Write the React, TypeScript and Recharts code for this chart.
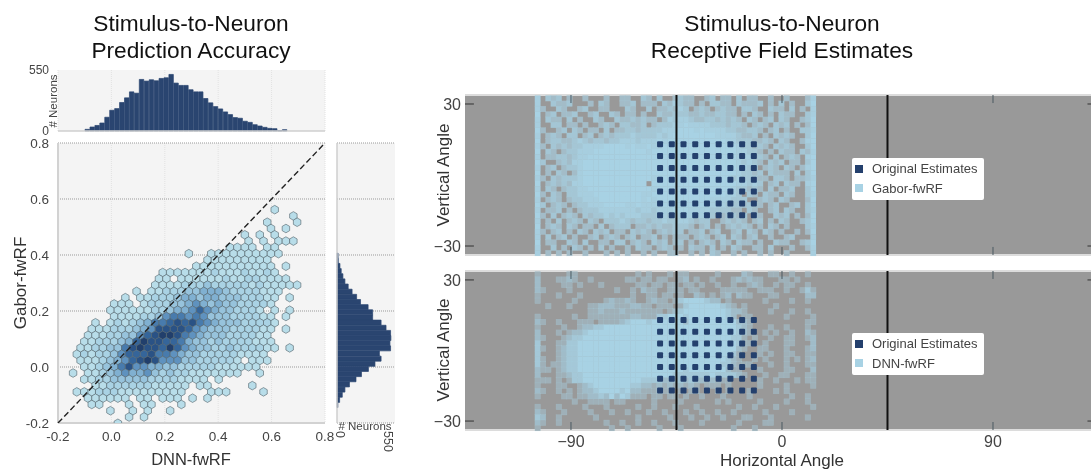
import { BarChart, Bar, CartesianGrid, ReferenceLine, Scatter, ScatterChart, XAxis, YAxis } from "recharts"

const FONT = '"Liberation Sans", Arial, sans-serif'
const TICK = "#444"

// top histogram: DNN-fwRF accuracy, neuron count per bin
const dnnBinStart = -0.0895
const dnnBinStep = 0.01848
const dnnCounts = [
  15, 36, 50, 72, 124, 187, 202, 257, 299, 353, 341, 465, 450, 462, 453, 474, 480, 510, 432, 411, 411,
  372, 353, 353, 293, 254, 220, 199, 172, 148, 121, 115, 88, 78, 57, 45, 33, 24, 21, 3, 12,
]

// right histogram: Gabor-fwRF accuracy, listed from the top bin down
const gaborBinStart = 0.3975
const gaborBinStep = 0.0184
const gaborCounts = [
  10, 12, 28, 40, 56, 75, 106, 143, 186, 223, 295, 338, 338, 418, 465, 508, 511, 502, 508, 402, 418,
  360, 298, 232, 180, 118, 75, 50, 25, 8,
]

// hexbin: one string per row, '.' is an empty bin, 1-9 is the density level
const hexRows = [
  "............................1",
  "...............................1",
  "...........................1...1",
  "............................1.1",
  "........................1.1.1",
  ".........................1.1.111",
  "......................1111.11",
  ".................1..1111111111",
  "...................111111111",
  "..................11111111111.1",
  ".............1111111211121121",
  ".............11.111111211221111",
  "............11112223222221211111",
  "..........1.11222334443222211" + "1",
  "........1.1122234434433322211.1",
  ".......111.122233454343322221",
  "......111111223445754332221.1.1",
  ".......1111223566565333222211.1",
  "....1.12123466787865433322221",
  "....1112223458888754333222211.1",
  "...1112233578998654333222211",
  "...11222347988776433232222111",
  "..112233689887975433223222211.1",
  "..12122357778665433222221111",
  "..1112345789855533222221.111",
  "...112346855443322222111111",
  ".1.112345445323221111111..1",
  "...11223333322221111.1",
  "....1122222211111.11.....1",
  "..111222111111111...111....1",
  "...111111.11.111.1.1",
  "....11...1.11...1",
  "......1..1.1..1",
  ".........1.1",
  ".......1",
]
const hexEvenStart = -0.1715
const hexOddStart = -0.1855
const hexStepX = 0.02797
const hexTopY = 0.5619
const hexStepY = 0.02244
const hexColors = ["", "#b8dde9", "#a9d2e4", "#97c3dc", "#80b0d1", "#5f92bf", "#487bad", "#35659a", "#2a5285", "#213f6c"]

// receptive field density, 30 rows by 53 columns, 0 is an empty cell
const gaborGrid = [
  "30212010010001001100210200121100120110201100100100013",
  "30021120001021001120111021321101022110211120102010024",
  "31002100120011000210020112132012101211022100211020103",
  "40120112001200210110100211222112112211010210102110023",
  "30211020100210021121211013233211221212102101202100124",
  "30022011010012102211201222334333322212210121021201014",
  "41001202101102011221222233344434333322112210120100223",
  "30121022012012122232222323444444443333211201021210024",
  "40122112321221223332333434444444444433222112102100134",
  "31021212233334444343343344444444444444322121021210024",
  "40210122333444444444434444444444444444332210102110213",
  "30112212334444444444444444444444444444333121020121034",
  "42001213344444444444444444444444444444323210212011024",
  "30120122344444444444444444444444444444332301210210134",
  "40102101344444444444444444444444444444322120211102024",
  "31021222344444444444443444444444444442322211022101123",
  "40121213344444444444404444444444444444332320120211034",
  "30210122334444444444443444444444444443221210201120024",
  "41021022333444444444334444444444444433202102110210023",
  "30121012233344444444343444444444433332220012102100014",
  "42012101223334444334333344444444333322212110120012024",
  "30112010122233333332332333444333322221102100120210023",
  "41020121021223232333222332334323320122120210021201014",
  "30102012102102223212212232233212200121210120102100124",
  "40121021011020122201121211222101201012121010210100023",
  "31012010210212011021210121220112012001202102101001014",
  "30201201001201210120112010111012101202101200100120003",
  "40110021020011022012102120120101210210211010021100124",
  "30020102101020100102110121010211020102100110200010013",
  "30101010010001010100101001100101021001010010100100003",
]
const dnnGrid = [
  "10000011000000000001010001011000001000021000110010010",
  "20001121001000000110110110012010010001212110001101000",
  "20000110100010000001101101101101001001001210010110010",
  "21000010000000010010211001110110000111110011100100131",
  "10001000100000000010011011010021010120211000110000022",
  "10000001000001211210012110134444322010000001000010010",
  "00100010001122211122110111013444444321010000010000" + "000",
  "00000000001121112111111101234444444432210000100010010",
  "10000001001111111122111334443444444432011000000100001",
  "21001000111011112344434444442444444444221000000000011",
  "10000100122334444444444444444444444444321000100100010",
  "20001012234444444444444444444444444444321001010010021",
  "21000123344444444444444444444444444443310100100110012",
  "30001133444444444444444444444444444444311001000110002",
  "31001233444444444444444444444444444444210011000100012",
  "30001233444444444444444444444444444443100010100110011",
  "31001233444444444444444444444444444432100101000101012",
  "31011233444444444444444444444444444332111000100100011",
  "21101233444444444444444444443444444421100010000110002",
  "20001123344444444444444444333333343333210001001100011",
  "11101013344444444444333322232322121110000010010001011",
  "10001100123444444433221212121210111010000010000100001",
  "21001010122344443422111211010110001010001000010100000",
  "10000110112232424311101101101001000100001000000010010",
  "00000001001111011000001000010000001010000010000100010",
  "10001000010001000001001000100010000000100100010000001",
  "21000100001000100100010010001001001001000001000010000",
  "32001000000100000001000001000100100100011000100000010",
  "21001000000001001001001000100001000000100001100000000",
  "10000000000000100100000100010000000001000100000000000",
]
const gridLeft = -104.2
const gridStepX = 2.26
const gridTop = 32.4
const gridStepY = 2.255
const gaborCellColors = ["", "#a3bcc8", "#a4c6d5", "#a7cedf", "#a8d2e4"]
const dnnCellColors = ["", "#9fb0b8", "#a0bcc9", "#a4c8d8", "#a8d2e4"]

// original estimates, degrees
const originalX = [-52, -47, -42, -37, -32, -27, -22, -17, -12]
const originalY = [13, 8, 3, -2, -7, -12, -17]

const accuracyTicks = [-0.2, 0, 0.2, 0.4, 0.6, 0.8]
const horizontalTicks = [-90, 0, 90]
const verticalTicks = [-30, 30]
const boundaryLines = [-45, 45]

const X_MIN = -135.2
const X_MAX = 131.8
const Y_MAX = 33.8

const dnnData = dnnCounts.map((count, i) => ({ x: dnnBinStart + i * dnnBinStep, count }))
const gaborData = gaborCounts.map((count, i) => ({ y: gaborBinStart - i * gaborBinStep, count }))

const hexData = hexRows.flatMap((row, i) =>
  [...row].flatMap((ch, c) =>
    ch === "." ? [] : [{ x: (i % 2 ? hexOddStart : hexEvenStart) + c * hexStepX, y: hexTopY - i * hexStepY, level: +ch }]
  )
)

const toCells = (grid: string[]) =>
  grid.flatMap((row, r) =>
    [...row].flatMap((ch, c) =>
      ch === "0" ? [] : [{ x: gridLeft + c * gridStepX, y: gridTop - r * gridStepY, level: +ch }]
    )
  )

const originalData = originalY.flatMap(y => originalX.map(x => ({ x, y })))
const diagonal = [{ x: -0.2, y: -0.2 }, { x: 0.8, y: 0.8 }]

function Hexagon({ cx, cy, level }: any) {
  const r = 4.3
  const w = 3.73
  const d = `M${cx},${cy - r}L${cx + w},${cy - r / 2}L${cx + w},${cy + r / 2}L${cx},${cy + r}L${cx - w},${cy + r / 2}L${cx - w},${cy - r / 2}Z`
  return <path d={d} fill={hexColors[level]} stroke="#56686f" strokeOpacity={0.8} strokeWidth={0.8} />
}

function Cell({ cx, cy, level, colors }: any) {
  return (
    <rect x={cx - 2.8} y={cy - 2.8} width={5.6} height={5.6} fill={colors[level]}
      stroke="#acd4e6" strokeOpacity={level < 4 ? 0.3 : 0} strokeWidth={0.5} />
  )
}

function Dot({ cx, cy }: any) {
  return <rect x={cx - 3} y={cy - 3} width={6} height={6} rx={1} fill="#24406d" />
}

const noMark = () => null

function Label({ x, y, size, rotate = 0, color = "#333", children }: any) {
  return (
    <div style={{
      position: "absolute", left: x, top: y, fontSize: size, color, lineHeight: 1, whiteSpace: "nowrap",
      transform: `translate(-50%, -50%) rotate(${rotate}deg)`,
    }}>
      {children}
    </div>
  )
}

function Legend({ top, name }: { top: number; name: string }) {
  const row = { display: "flex", alignItems: "center", height: 19.5, fontSize: 13, color: "#444" }
  const swatch = { width: 8, height: 8, marginRight: 9 }
  return (
    <div style={{ position: "absolute", left: 852, top, width: 132, height: 42, padding: "1px 0 0 3px", boxSizing: "border-box", background: "#fff", borderRadius: 2 }}>
      <div style={row}><div style={{ ...swatch, background: "#24406d" }} />Original Estimates</div>
      <div style={row}><div style={{ ...swatch, background: "#a8d2e4" }} />{name}</div>
    </div>
  )
}

function RotatedTick({ x, y, payload }: any) {
  const shift = payload.value === 0 ? 1 : 11
  return (
    <text transform={`translate(${x - shift},${y + 6}) rotate(90)`} fontSize={12.5} fill={TICK} textAnchor="start">
      {payload.value}
    </text>
  )
}

function ReceptiveField({ grid, colors, top, height, marginTop, showX }: { grid: string[]; colors: string[]; top: number; height: number; marginTop: number; showX: boolean }) {
  const minus = (v: number) => String(v).replace("-", "\u2212")
  const segments = [
    ...horizontalTicks.flatMap(t => [
      { stroke: "#4a5a62", width: 1, points: [{ x: t, y: Y_MAX }, { x: t, y: 30.4 }] },
      { stroke: "#4a5a62", width: 1, points: [{ x: t, y: -Y_MAX }, { x: t, y: -30.4 }] },
    ]),
    ...verticalTicks.flatMap(t => [
      { stroke: "#333", width: 1, points: [{ x: X_MIN, y: t }, { x: X_MIN + 3.8, y: t }] },
      { stroke: "#333", width: 1, points: [{ x: X_MAX - 1.5, y: t }, { x: X_MAX, y: t }] },
    ]),
    ...boundaryLines.map(x => ({ stroke: "#111", width: 2, points: [{ x, y: -Y_MAX }, { x, y: Y_MAX }] })),
  ]
  return (
    <div style={{ position: "absolute", left: 400, top }}>
      <ScatterChart width={691} height={height} margin={{ top: marginTop, right: 0, bottom: showX ? 0 : 5, left: 0 }}>
        <CartesianGrid fill="#999999" stroke="none" />
        <XAxis type="number" dataKey="x" domain={[X_MIN, X_MAX]} ticks={horizontalTicks} hide={!showX} height={39}
          tickFormatter={minus} tick={{ fontSize: 16, fill: TICK }} tickLine={false} axisLine={false} tickSize={0} tickMargin={6} interval={0} />
        <YAxis type="number" dataKey="y" domain={[-Y_MAX, Y_MAX]} ticks={verticalTicks} width={65}
          tickFormatter={minus} tick={{ fontSize: 16, fill: TICK }} tickLine={false} axisLine={false} tickSize={0} tickMargin={4} interval={0} />
        <Scatter data={toCells(grid)} isAnimationActive={false} shape={(p: any) => <Cell cx={p.cx} cy={p.cy} level={p.payload.level} colors={colors} />} />
        <Scatter data={originalData} isAnimationActive={false} shape={(p: any) => <Dot cx={p.cx} cy={p.cy} />} />
        <ReferenceLine y={Y_MAX} stroke="#dcdcdc" strokeWidth={2} />
        <ReferenceLine y={-Y_MAX} stroke="#dcdcdc" strokeWidth={2} />
        {segments.map((s, i) => (
          <Scatter key={i} data={s.points} isAnimationActive={false} shape={noMark} line={{ stroke: s.stroke, strokeWidth: s.width }} />
        ))}
      </ScatterChart>
    </div>
  )
}

export default function App() {
  return (
    <div style={{ position: "absolute", left: 0, top: 0, width: 1091, height: 469, background: "#fff", fontFamily: FONT, overflow: "hidden", filter: "blur(0.4px)" }}>
      <Label x={191} y={23} size={22.7} color="#111">Stimulus-to-Neuron</Label>
      <Label x={191} y={50} size={22.7} color="#111">Prediction Accuracy</Label>
      <Label x={782} y={23} size={22.7} color="#111">Stimulus-to-Neuron</Label>
      <Label x={782} y={50} size={22.7} color="#111">Receptive Field Estimates</Label>

      {/* top histogram */}
      <div style={{ position: "absolute", left: 0, top: 60 }}>
        <BarChart width={345} height={80} data={dnnData} margin={{ top: 10, right: 20, bottom: 9, left: 0 }}>
          <CartesianGrid fill="#f4f4f4" stroke="#e2e2e2" strokeDasharray="1 1" horizontal={false} />
          <XAxis type="number" dataKey="x" domain={[-0.2, 0.8]} ticks={accuracyTicks} hide />
          <YAxis type="number" domain={[0, 550]} ticks={[0, 550]} width={58} tick={{ fontSize: 12, fill: TICK }} tickLine={false} axisLine={false} tickSize={0} tickMargin={9} interval={0} />
          <Bar dataKey="count" fill="#2a4570" stroke="#2a4570" strokeWidth={0.7} barSize={5} isAnimationActive={false} />
          <ReferenceLine y={0} stroke="#cfcfcf" strokeWidth={1.5} />
        </BarChart>
      </div>
      <Label x={54} y={101} size={11.5} rotate={-90} color={TICK}># Neurons</Label>

      {/* hexbin */}
      <div style={{ position: "absolute", left: 0, top: 0 }}>
        <ScatterChart width={345} height={469} margin={{ top: 143, right: 20, bottom: 0, left: 0 }}>
          <CartesianGrid fill="#f4f4f4" stroke="#e2e2e2" strokeDasharray="1 1" horizontal={false} />
          <CartesianGrid stroke="#999" strokeDasharray="1 1" vertical={false} />
          <XAxis type="number" dataKey="x" domain={[-0.2, 0.8]} ticks={accuracyTicks} height={46} interval={0}
            tickFormatter={(v: number) => v.toFixed(1)} tick={{ fontSize: 13.5, fill: TICK }} tickLine={false}
            axisLine={{ stroke: "#d2d2d2", strokeWidth: 2 }} tickSize={0} tickMargin={8} />
          <YAxis type="number" dataKey="y" domain={[-0.2, 0.8]} ticks={accuracyTicks} width={58} allowDataOverflow interval={0}
            tickFormatter={(v: number) => v.toFixed(1)} tick={{ fontSize: 13.5, fill: TICK }} tickLine={false}
            axisLine={{ stroke: "#d2d2d2", strokeWidth: 2 }} tickSize={0} tickMargin={9} />
          <Scatter data={hexData} isAnimationActive={false} shape={(p: any) => <Hexagon cx={p.cx} cy={p.cy} level={p.payload.level} />} />
          <Scatter data={diagonal} isAnimationActive={false} shape={noMark} line={{ stroke: "#222", strokeWidth: 1.4, strokeDasharray: "6 3" }} />
        </ScatterChart>
      </div>
      <Label x={191} y={459} size={16.5}>DNN-fwRF</Label>
      <Label x={20} y={283} size={17} rotate={-90}>Gabor-fwRF</Label>

      {/* right histogram */}
      <div style={{ position: "absolute", left: 320, top: 133 }}>
        <BarChart layout="vertical" width={90} height={336} data={gaborData} margin={{ top: 10, right: 15, bottom: 0, left: 17 }}>
          <CartesianGrid fill="#f4f4f4" stroke="#999" strokeDasharray="1 1" vertical={false} />
          <XAxis type="number" domain={[0, 550]} ticks={[0, 550]} height={46} interval={0} tick={<RotatedTick />} tickLine={false} axisLine={false} tickSize={0} />
          <YAxis type="number" dataKey="y" domain={[-0.2, 0.8]} ticks={accuracyTicks} reversed hide />
          <Bar dataKey="count" fill="#2a4570" stroke="#2a4570" strokeWidth={0.7} barSize={5} isAnimationActive={false} />
          <ReferenceLine x={0} stroke="#cfcfcf" strokeWidth={1.5} />
        </BarChart>
      </div>
      <Label x={365} y={427} size={11.5} color={TICK}># Neurons</Label>

      {/* receptive fields */}
      <ReceptiveField grid={gaborGrid} colors={gaborCellColors} top={0} height={260} marginTop={95} showX={false} />
      <ReceptiveField grid={dnnGrid} colors={dnnCellColors} top={265} height={204} marginTop={6} showX />
      <Legend top={158} name="Gabor-fwRF" />
      <Legend top={333} name="DNN-fwRF" />
      <Label x={443} y={175} size={17} rotate={-90}>Vertical Angle</Label>
      <Label x={443} y={350} size={17} rotate={-90}>Vertical Angle</Label>
      <Label x={782} y={460} size={17}>Horizontal Angle</Label>
    </div>
  )
}
